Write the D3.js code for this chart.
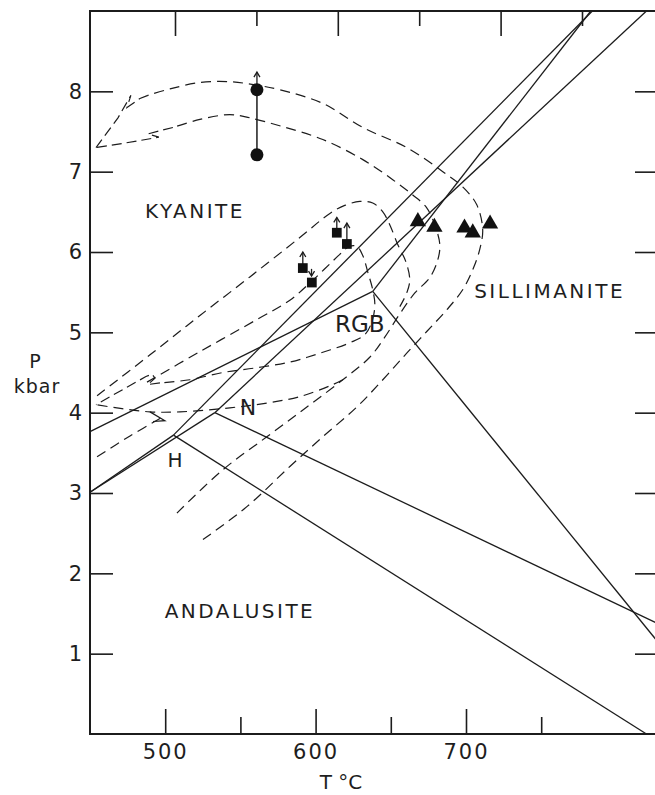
<!DOCTYPE html>
<html>
<head>
<meta charset="utf-8">
<script src="https://cdn.jsdelivr.net/npm/d3@7"></script>
<style>
  body { margin: 0; background: #fff; }
  svg { display: block; }
  text { font-family: "DejaVu Sans", sans-serif; fill: #1e1e1e; }
</style>
</head>
<body>
<div id="chart"></div>
<script>
// ---- data (T in °C, P in kbar) ----
const tMajor = [500, 600, 700];
const tMinor = [550, 650, 750];
const pTicks = [1, 2, 3, 4, 5, 6, 7, 8];

// aluminosilicate triple points and where their boundaries leave the frame
const triplePoints = [
    { name: "H", T: 505.5, P: 3.72 },
    { name: "N", T: 533, P: 4.0 },
    { name: "RGB", T: 638, P: 5.51 }
];
const kyAndEnds = [[450, 3.01], [450, 3.01], [450, 3.765]];
const kySilEnds = [[784, 9], [820, 9], [783, 9]];
const andSilEnds = [[820, 0], [827, 1.38], [827, 1.16]];

// P-T path bands (dashed)
const upperOuter = [[525.1, 2.42], [554.3, 2.83], [582.9, 3.33], [604.8, 3.70], [627.4, 4.07], [644.7, 4.41],
    [660.6, 4.74], [673.9, 5.01], [687.2, 5.28], [697.8, 5.53], [704.5, 5.78], [709.1, 6.03], [711.1, 6.28],
    [707.1, 6.59], [697.8, 6.81], [684.6, 7.00], [660.6, 7.30], [631.4, 7.55], [604.8, 7.85], [576.2, 8.02],
    [559.6, 8.08], [543.0, 8.12], [523.1, 8.11], [503.2, 8.03], [488.5, 7.95]];
const upperInner = [[507.8, 2.75], [538.4, 3.29], [567.6, 3.70], [594.2, 4.07], [618.1, 4.41], [636.0, 4.69],
    [646.0, 4.94], [656.0, 5.23], [666.0, 5.49], [675.9, 5.68], [681.2, 5.90], [682.6, 6.09], [679.2, 6.34],
    [673.9, 6.55], [664.6, 6.71], [651.3, 6.90], [631.4, 7.15], [604.8, 7.40], [578.2, 7.56], [556.3, 7.67],
    [543.0, 7.71], [523.1, 7.65], [505.1, 7.55]];
const upperHeadOuter = [[488.5, 7.95], [483.2, 7.91], [474.6, 7.80], [477.2, 7.95], [468.6, 7.67], [454.0, 7.30]];
const upperHeadInner = [[505.1, 7.55], [496.5, 7.51], [488.5, 7.47], [495.8, 7.43], [489.9, 7.41], [471.3, 7.35], [454.0, 7.30]];

const middleOuter = [[454.7, 4.21], [489.9, 4.72], [523.1, 5.21], [556.3, 5.69], [589.5, 6.18], [609.5, 6.48],
    [619.4, 6.58], [629.4, 6.63], [638.0, 6.61], [644.7, 6.50], [649.3, 6.34], [654.7, 6.09], [660.0, 5.88],
    [662.6, 5.65], [660.6, 5.49], [656.0, 5.32]];
const middleInner = [[487.9, 4.38], [523.1, 4.76], [561.0, 5.16], [582.9, 5.40], [598.2, 5.65], [616.1, 5.97],
    [622.5, 6.07], [627.5, 6.07], [631.5, 5.95], [634.7, 5.75], [638.0, 5.53], [639.4, 5.34], [637.4, 5.13],
    [632.7, 4.97], [622.8, 4.87], [602.8, 4.74], [582.9, 4.63], [561.0, 4.56], [538.4, 4.50], [516.4, 4.41],
    [496.5, 4.37]];
const lowerHeadUpper = [[496.5, 4.37], [488.5, 4.35], [493.2, 4.43], [491.2, 4.48], [487.2, 4.45], [454.0, 4.10]];
const lowerEdge = [[618.1, 4.41], [611.5, 4.35], [589.5, 4.20], [567.6, 4.12], [543.0, 4.06], [509.8, 4.01],
    [489.9, 4.01], [471.3, 4.05], [454.0, 4.10]];
const lowerBarb = [[489.9, 4.01], [499.8, 3.90], [491.9, 3.89]];
const lowerTail = [[454.7, 3.45], [476.6, 3.71], [497.8, 3.94]];

// samples
const circleT = 561;
const circleP = [8.02, 7.21];
const squares = [[591.5, 5.80], [597.5, 5.62], [614.1, 6.24], [620.8, 6.10]];
const triangles = [[668, 6.38], [679, 6.31], [699, 6.30], [704.5, 6.24], [716, 6.35]];
// little arrows on samples: [T, from P, to P]
const sampleArrows = [[561, 8.02, 8.24], [591.5, 5.80, 6.00], [614.1, 6.24, 6.43], [620.8, 6.10, 6.36], [597.3, 5.79, 5.70]];

const fieldLabels = [
    { text: "KYANITE", T: 519.8, P: 6.51, size: 20 },
    { text: "SILLIMANITE", T: 755.6, P: 5.52, size: 20 },
    { text: "ANDALUSITE", T: 549.7, P: 1.53, size: 20 },
    { text: "RGB", T: 629.4, P: 5.11, size: 23 },
    { text: "N", T: 555.0, P: 4.07, size: 22 },
    { text: "H", T: 506.5, P: 3.41, size: 20 }
];

// ---- layout ----
const width = 655;
const height = 795;
const ink = "#1c1c1c";

const x = d3.scaleLinear().domain([450, 827]).range([90, 657]);
// the top frame ticks are spaced wider than the bottom ones in the original
const xTop = d3.scaleLinear().domain([450, 750]).range([93.6, 582]);
const y = d3.scaleLinear().domain([0, 9]).range([734, 11]);

const svg = d3.select("#chart")
    .append("svg")
    .attr("width", width)
    .attr("height", height);

svg.append("rect").attr("width", width).attr("height", height).attr("fill", "#fff");

// frame
svg.append("rect")
    .attr("x", x(450))
    .attr("y", y(9))
    .attr("width", x(827) - x(450))
    .attr("height", y(0) - y(9))
    .attr("fill", "none")
    .attr("stroke", ink)
    .attr("stroke-width", 2);

function styleAxis(g) {
    g.select(".domain").remove();
    g.attr("font-family", "DejaVu Sans").attr("font-size", 21);
    g.selectAll(".tick line").attr("stroke", ink).attr("stroke-width", 1.6);
    g.selectAll(".tick text").attr("fill", ink).style("letter-spacing", "2px");
}

svg.append("g")
    .attr("transform", `translate(0,${y(0)})`)
    .call(d3.axisBottom(x).tickValues(tMajor).tickSize(-25).tickPadding(10).tickFormat(d3.format("d")))
    .call(styleAxis);
svg.append("g")
    .attr("transform", `translate(0,${y(0)})`)
    .call(d3.axisBottom(x).tickValues(tMinor).tickSize(-17).tickFormat(""))
    .call(styleAxis);
svg.append("g")
    .attr("transform", `translate(0,${y(9)})`)
    .call(d3.axisTop(xTop).tickValues(tMajor).tickSize(-25).tickFormat(""))
    .call(styleAxis);
svg.append("g")
    .attr("transform", `translate(0,${y(9)})`)
    .call(d3.axisTop(xTop).tickValues(tMinor).tickSize(-15).tickFormat(""))
    .call(styleAxis);
svg.append("g")
    .attr("transform", `translate(${x(450)},0)`)
    .call(d3.axisLeft(y).tickValues(pTicks).tickSize(-23).tickPadding(6).tickFormat(d3.format("d")))
    .call(styleAxis);
svg.append("g")
    .attr("transform", `translate(${x(827)},0)`)
    .call(d3.axisRight(y).tickValues(pTicks).tickSize(-22).tickFormat(""))
    .call(styleAxis);

// axis titles
svg.append("text").attr("x", 35).attr("y", 368).attr("text-anchor", "middle")
    .attr("font-size", 19).text("P");
svg.append("text").attr("x", 37).attr("y", 393).attr("text-anchor", "middle")
    .attr("font-size", 19).style("letter-spacing", "1px").text("kbar");
svg.append("text").attr("x", 341).attr("y", 789).attr("text-anchor", "middle")
    .attr("font-size", 20).text("T °C");

const plot = svg.append("g");

// phase boundaries
const line = d3.line().x(d => x(d[0])).y(d => y(d[1]));
triplePoints.forEach((tp, i) => {
    [kyAndEnds[i], kySilEnds[i], andSilEnds[i]].forEach(end => {
        plot.append("path")
            .datum([[tp.T, tp.P], end])
            .attr("d", line)
            .attr("fill", "none")
            .attr("stroke", ink)
            .attr("stroke-width", 1.3);
    });
});

// dashed P-T paths
const smooth = d3.line().x(d => x(d[0])).y(d => y(d[1])).curve(d3.curveCatmullRom.alpha(0.5));
[upperOuter, upperInner, middleOuter, middleInner, lowerEdge, lowerTail].forEach(pts => {
    plot.append("path")
        .datum(pts)
        .attr("d", smooth)
        .attr("fill", "none")
        .attr("stroke", ink)
        .attr("stroke-width", 1.2)
        .attr("stroke-dasharray", "10,6");
});
[upperHeadOuter, upperHeadInner, lowerHeadUpper].forEach(pts => {
    plot.append("path")
        .datum(pts)
        .attr("d", line)
        .attr("fill", "none")
        .attr("stroke", ink)
        .attr("stroke-width", 1.2)
        .attr("stroke-dasharray", "10,5");
});
plot.append("path")
    .datum(lowerBarb)
    .attr("d", line)
    .attr("fill", "none")
    .attr("stroke", ink)
    .attr("stroke-width", 1.2);

// sample arrows
sampleArrows.forEach(([t, p0, p1]) => {
    const dir = p1 > p0 ? 1 : -1;
    plot.append("line")
        .attr("x1", x(t)).attr("x2", x(t))
        .attr("y1", y(p0)).attr("y2", y(p1))
        .attr("stroke", ink).attr("stroke-width", 1.3);
    plot.append("path")
        .attr("d", `M${x(t) - 3},${y(p1) + 5 * dir} L${x(t)},${y(p1)} L${x(t) + 3},${y(p1) + 5 * dir}`)
        .attr("fill", "none").attr("stroke", ink).attr("stroke-width", 1.3);
});

// circles joined by a line
plot.append("line")
    .attr("x1", x(circleT)).attr("x2", x(circleT))
    .attr("y1", y(circleP[0])).attr("y2", y(circleP[1]))
    .attr("stroke", ink).attr("stroke-width", 1.5);
plot.selectAll(".circ")
    .data(circleP)
    .join("circle")
    .attr("cx", x(circleT))
    .attr("cy", d => y(d))
    .attr("r", 6.5)
    .attr("fill", "#111");

plot.selectAll(".sq")
    .data(squares)
    .join("path")
    .attr("transform", d => `translate(${x(d[0])},${y(d[1])})`)
    .attr("d", d3.symbol(d3.symbolSquare, 95))
    .attr("fill", "#111");

plot.selectAll(".tri")
    .data(triangles)
    .join("path")
    .attr("transform", d => `translate(${x(d[0])},${y(d[1])})`)
    .attr("d", d3.symbol(d3.symbolTriangle, 115))
    .attr("fill", "#111");

// field and triple point labels
fieldLabels.forEach(l => {
    plot.append("text")
        .attr("x", x(l.T))
        .attr("y", y(l.P))
        .attr("dy", "0.36em")
        .attr("text-anchor", "middle")
        .attr("font-size", l.size)
        .style("letter-spacing", l.text.length > 3 ? "2.5px" : "0px")
        .text(l.text);
});
</script>
</body>
</html>
